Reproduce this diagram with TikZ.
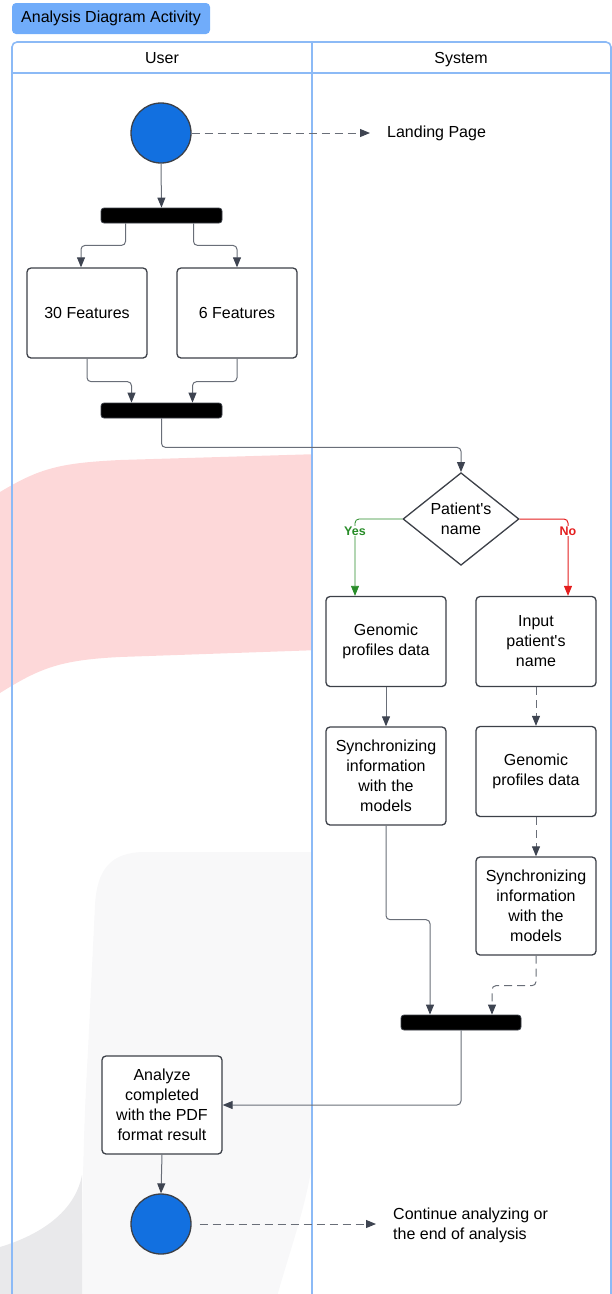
\documentclass[tikz,border=0pt]{standalone}
\usepackage{fontspec}
\setmainfont{Liberation Sans}[Ligatures=TeXOff]
\usetikzlibrary{shapes.geometric,arrows.meta,calc}
\definecolor{lanecol}{RGB}{140,186,246}
\definecolor{titlefill}{RGB}{112,172,250}
\definecolor{nodeborder}{RGB}{60,64,72}
\definecolor{connline}{RGB}{105,110,120}
\definecolor{tipcol}{RGB}{62,68,81}
\definecolor{startblue}{RGB}{18,112,224}
\definecolor{yesgreen}{RGB}{40,140,40}
\definecolor{nored}{RGB}{228,30,30}
\definecolor{wmpink}{RGB}{253,216,217}
\definecolor{wmlight}{RGB}{248,248,249}
\definecolor{wmdark}{RGB}{233,233,235}
\tikzset{
  txt/.style={font=\fontsize{16}{20}\selectfont, align=center, text=black},
  actbox/.style={txt, draw=nodeborder, line width=1.3pt, rounded corners=4pt, fill=white, inner sep=0pt},
  barnode/.style={draw=nodeborder, line width=0.8pt, fill=black, rounded corners=3pt, minimum width=121pt, minimum height=15pt, inner sep=0pt},
  startnode/.style={circle, draw=nodeborder, line width=1.3pt, fill=startblue, minimum size=60pt, inner sep=0pt},
  decnode/.style={txt, diamond, draw=nodeborder, line width=1.3pt, fill=white, minimum width=116pt, minimum height=88pt, inner sep=0pt},
  conn/.style={draw=connline, line width=1pt, rounded corners=4pt, -{Triangle[length=10pt,width=8pt,color=tipcol]}},
  dconn/.style={conn, dash pattern=on 8pt off 5pt},
  laneline/.style={draw=lanecol, line width=1.6pt},
  branchlbl/.style={font=\fontsize{12.5}{14}\selectfont\bfseries, fill=white, inner sep=1pt},
  freetext/.style={txt, inner sep=0pt, anchor=west, align=left},
  headtext/.style={txt, anchor=base, inner sep=0pt},
}
\begin{document}
\begin{tikzpicture}[x=1pt,y=-1pt]
\useasboundingbox (0,0) rectangle (612,1294);
% watermark
\begin{scope}
\clip (0,0) rectangle (312,1294);
\fill[wmpink] (0,492) .. controls (40,468) and (60,463) .. (120,460) -- (320,454) -- (320,650) -- (120,657) .. controls (60,660) and (40,668) .. (0,693) -- cycle;
\fill[wmlight] (320,852) -- (145,852) .. controls (110,852) and (97,870) .. (95,905) -- (88,1050) .. controls (84,1120) and (82,1180) .. (82,1300) -- (276,1300) .. controls (290,1250) and (305,1210) .. (312,1165) -- (320,1165) -- cycle;
\fill[wmdark] (0,1247) .. controls (40,1235) and (75,1212) .. (82,1175) -- (82,1300) -- (0,1300) -- cycle;
\end{scope}
% swimlanes
\draw[laneline, rounded corners=5pt] (12,1300) -- (12,42) -- (611,42) -- (611,1300);
\draw[laneline] (12,73) -- (611,73);
\draw[laneline] (312,42) -- (312,1300);
\node[headtext] (huser) at (162,63) {User};
\node[headtext] (hsys) at (461,63) {System};
% title
\node[txt, fill=titlefill, rounded corners=4pt, minimum width=198pt, minimum height=31pt, inner sep=0pt] (title) at (111,18.5) {Analysis Diagram Activity};
% nodes
\node[startnode] (start) at (161,133) {};
\node[freetext] (landing) at (387,133) {Landing Page};
\node[barnode] (fork1) at (161.5,215.5) {};
\node[actbox, minimum width=120pt, minimum height=90pt] (f30) at (87,313) {30 Features};
\node[actbox, minimum width=120pt, minimum height=90pt] (f6) at (237,313) {6 Features};
\node[barnode] (join1) at (161.5,410.5) {};
\node[decnode] (dec) at (461,519) {Patient's\\name};
\node[actbox, minimum width=120pt, minimum height=90pt] (gen1) at (386,641.5) {Genomic\\profiles data};
\node[actbox, minimum width=120pt, minimum height=90pt] (inp) at (536,641.5) {Input\\patient's\\name};
\node[actbox, minimum width=120pt, minimum height=98pt] (syn1) at (386,776) {Synchronizing\\information\\with the\\models};
\node[actbox, minimum width=120pt, minimum height=90pt] (gen2) at (536,771.5) {Genomic\\profiles data};
\node[actbox, minimum width=120pt, minimum height=98pt] (syn2) at (536,906) {Synchronizing\\information\\with the\\models};
\node[barnode, minimum width=120pt] (join2) at (461,1022.5) {};
\node[actbox, minimum width=120pt, minimum height=98pt] (ana) at (162,1105) {Analyze\\completed\\with the PDF\\format result};
\node[startnode] (endc) at (161,1224) {};
\node[freetext] (cont) at (393,1225) {Continue analyzing or\\the end of analysis};
% connectors
\draw[dconn, shorten >=17pt] (start.east) -- (landing.west |- start.east);
\draw[conn] (start.south) -- (fork1.north);
\draw[conn] ($(fork1.south)+(-36,0)$) -- ++(0,22) -| ($(f30.north)+(-6,0)$);
\draw[conn] ($(fork1.south)+(32,0)$) -- ++(0,22) -| (f6.north);
\draw[conn] (f30.south) -- ++(0,23) -| ($(join1.north)+(-30,0)$);
\draw[conn] (f6.south) -- ++(0,23) -| ($(join1.north)+(31,0)$);
\draw[conn] (join1.south) -- ++(0,29) -| (dec.north);
\draw[conn, draw=yesgreen, line width=0.8pt, -{Triangle[length=10pt,width=8pt,color=yesgreen]}] (dec.west) -| ($(gen1.north)+(-31,0)$);
\draw[conn, draw=nored, -{Triangle[length=10pt,width=8pt,color=nored]}] (dec.east) -| ($(inp.north)+(32,0)$);
\node[branchlbl, text=yesgreen] (yes) at (355,531) {Yes};
\node[branchlbl, text=nored] (no) at (568,531) {No};
\draw[conn] (gen1.south) -- (syn1.north);
\draw[dconn] (inp.south) -- (gen2.north);
\draw[dconn] (gen2.south) -- (syn2.north);
\draw[conn] (syn1.south) -- ++(0,94) -| ($(join2.north)+(-31,0)$);
\draw[dconn] (syn2.south) -- ++(0,30) -| ($(join2.north)+(31,0)$);
\draw[conn] (join2.south) |- (ana.east);
\draw[conn] (ana.south) -- (endc.north);
\draw[dconn, shorten >=17pt] ($(endc.east)+(8,0)$) -- (cont.west |- endc.east);
\end{tikzpicture}
\end{document}
